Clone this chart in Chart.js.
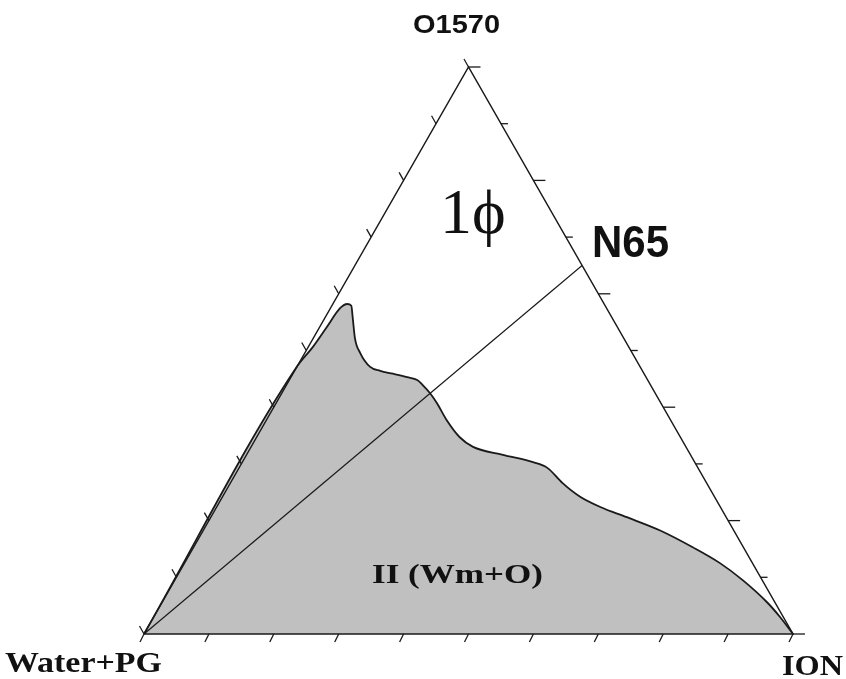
<!DOCTYPE html>
<html>
<head>
<meta charset="utf-8">
<script src="https://cdn.jsdelivr.net/npm/chart.js@4/dist/chart.umd.min.js"></script>
<style>
  body { margin: 0; background: #fff; }
</style>
</head>
<body>
<canvas id="myChart" width="846" height="679"></canvas>
<script>
// corner names of the ternary diagram
const cornerTop = "O1570";
const cornerLeft = "Water+PG";
const cornerRight = "ION";

// ticks on every edge, in %
const tickValues = [0, 10, 20, 30, 40, 50, 60, 70, 80, 90, 100];

// boundary of the two phase region (ION %, O1570 %), Water+PG is the rest
const boundaryION = [0, 0, 0.7, 1.1, 1.5, 2.2, 3.0, 4.2, 6.4, 8.5, 11.3, 13.2, 15.4, 17.9, 19.7, 21.0, 22.8, 24.8, 27.8, 31.3, 34.2, 39.5, 44.8, 47.5, 51.2, 55.1, 59.1, 64.1, 70.3, 76.9, 82.5, 87.5, 93.2, 96.5, 100];
const boundaryO = [0, 47.3, 50.6, 54.1, 57.5, 58.2, 57.9, 55.9, 52.2, 49.6, 47.1, 46.4, 45.9, 45.3, 44.8, 43.9, 42.5, 40.7, 37.7, 34.7, 33.0, 31.6, 30.3, 29.3, 26.6, 24.2, 22.4, 20.6, 18.3, 15.3, 12.5, 9.5, 5.6, 3.0, 0];

// dilution line N65 : from the Water+PG corner to O1570/ION = 65/35
const n65ION = 35;
const n65O = 65;

// ternary -> cartesian
function toXY(ion, o) {
  return { x: ion + o / 2, y: o };
}

const regionPoints = boundaryION.map((ion, i) => toXY(ion, boundaryO[i]));
const trianglePoints = [toXY(0, 0), toXY(100, 0), toXY(0, 100), toXY(0, 0)];
const n65Points = [toXY(0, 0), toXY(n65ION, n65O)];

// tick marks + labels
const ternaryDecor = {
  id: "ternaryDecor",
  afterDatasetsDraw(chart) {
    const ctx = chart.ctx;
    const xs = chart.scales.x;
    const ys = chart.scales.y;
    const px = (p) => [xs.getPixelForValue(p.x), ys.getPixelForValue(p.y)];

    ctx.save();
    ctx.strokeStyle = "#1a1a1a";
    ctx.lineWidth = 1.3;
    tickValues.forEach((v, k) => {
      // bottom edge, pointing down-left
      let [x, y] = px(toXY(v, 0));
      line(ctx, x, y, x - 4, y + 8);
      // right edge, pointing right
      [x, y] = px(toXY(100 - v, v));
      line(ctx, x, y, x + (k % 2 === 0 ? 12 : 7), y);
      // left edge, pointing up-left
      [x, y] = px(toXY(0, v));
      line(ctx, x, y, x - 4.5, y - 8);
    });
    ctx.restore();

    ctx.save();
    ctx.fillStyle = "#111";
    ctx.textBaseline = "alphabetic";
    drawText(ctx, cornerTop, "bold 25px 'Liberation Sans'", 413, 33, 87);
    drawText(ctx, "N65", "bold 44px 'Liberation Sans'", 592, 257, 77);
    drawText(ctx, "1\u03D5", "64px 'Liberation Serif', 'DejaVu Serif'", 440, 233, 0);
    drawText(ctx, "II (Wm+O)", "bold 27px 'Liberation Serif'", 372, 583, 171);
    drawText(ctx, cornerLeft, "bold 29px 'Liberation Serif'", 5, 672, 157);
    drawText(ctx, cornerRight, "bold 30px 'Liberation Serif'", 782, 675, 61);
    ctx.restore();
  },
};

function line(ctx, x1, y1, x2, y2) {
  ctx.beginPath();
  ctx.moveTo(x1, y1);
  ctx.lineTo(x2, y2);
  ctx.stroke();
}

function drawText(ctx, text, font, x, y, width) {
  ctx.font = font;
  const w = ctx.measureText(text).width;
  const sx = width ? width / w : 1;
  ctx.save();
  ctx.translate(x, y);
  ctx.scale(sx, 1);
  ctx.fillText(text, 0, 0);
  ctx.restore();
}

const config = {
  type: "scatter",
  data: {
    datasets: [
      {
        label: "triangle",
        data: trianglePoints,
        showLine: true,
        borderColor: "#1a1a1a",
        borderWidth: 1.5,
        pointRadius: 0,
        clip: false,
        order: 1,
      },
      {
        label: "N65",
        data: n65Points,
        showLine: true,
        borderColor: "#1a1a1a",
        borderWidth: 1.2,
        pointRadius: 0,
        clip: false,
        order: 2,
      },
      {
        label: "II (Wm+O)",
        data: regionPoints,
        showLine: true,
        fill: "origin",
        backgroundColor: "#c0c0c0",
        borderColor: "#1a1a1a",
        borderWidth: 1.8,
        pointRadius: 0,
        cubicInterpolationMode: "monotone",
        clip: false,
        order: 3,
      },
    ],
  },
  options: {
    responsive: false,
    animation: false,
    layout: {
      padding: { left: 144, right: 53, top: 67, bottom: 45 },
    },
    scales: {
      x: { type: "linear", min: 0, max: 100, display: false },
      y: { type: "linear", min: 0, max: 100, display: false },
    },
    plugins: {
      legend: { display: false },
      tooltip: { enabled: false },
    },
  },
  plugins: [ternaryDecor],
};

const myChart = new Chart(document.getElementById("myChart"), config);
</script>
</body>
</html>
